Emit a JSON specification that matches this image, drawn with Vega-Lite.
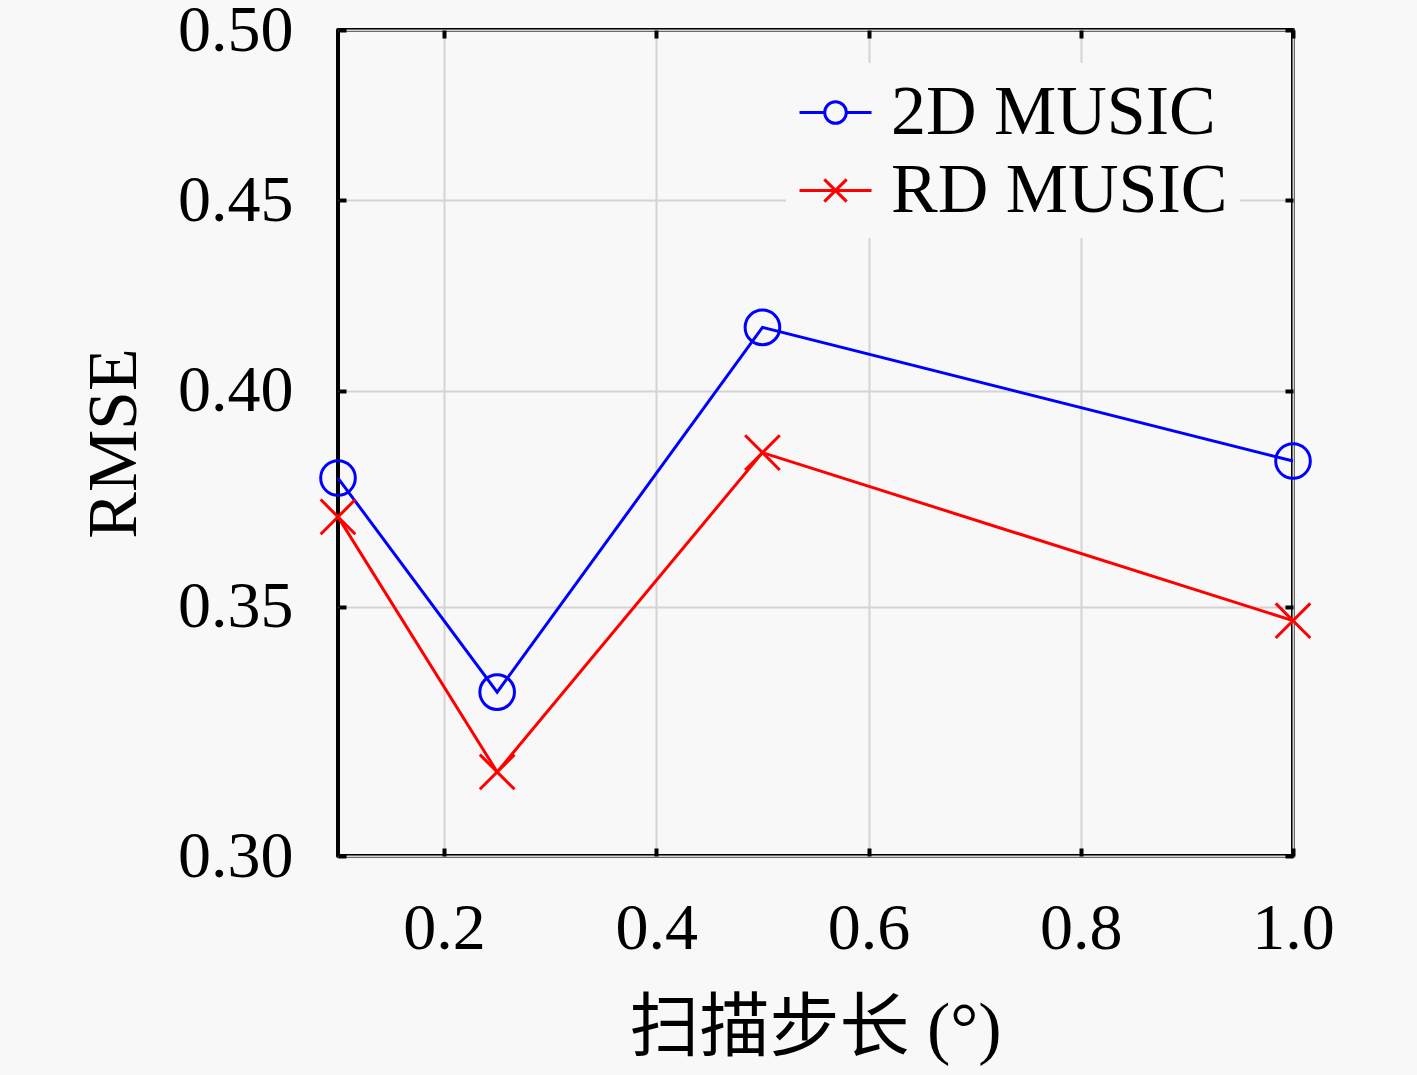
{
  "$schema": "https://vega.github.io/schema/vega-lite/v6.json",
  "description": "RMSE vs scan step for 2D MUSIC and RD MUSIC",
  "width": 955,
  "height": 826,
  "autosize": "none",
  "padding": {"left": 338, "top": 30, "right": 124, "bottom": 219},
  "background": "#f8f8f8",
  "config": {
    "view": {"stroke": "black", "strokeWidth": 4, "strokeJoin": "round"},
    "font": "Liberation Serif",
    "axis": {
      "domain": false,
      "gridColor": "#d3d3d3",
      "gridWidth": 2,
      "tickColor": "black",
      "tickWidth": 4,
      "tickSize": -8,
      "labelColor": "black",
      "titleColor": "black",
      "labelFont": "Liberation Serif",
      "titleFont": "Liberation Serif, Noto Sans CJK SC",
      "labelFontSize": 66,
      "titleFontSize": 70,
      "titleFontWeight": "normal"
    }
  },
  "data": {
    "values": [
      {"step": 0.1, "rmse": 0.379, "method": "2D MUSIC"},
      {"step": 0.25, "rmse": 0.332, "method": "2D MUSIC"},
      {"step": 0.5, "rmse": 0.416, "method": "2D MUSIC"},
      {"step": 1.0, "rmse": 0.383, "method": "2D MUSIC"},
      {"step": 0.1, "rmse": 0.370, "method": "RD MUSIC"},
      {"step": 0.25, "rmse": 0.316, "method": "RD MUSIC"},
      {"step": 0.5, "rmse": 0.385, "method": "RD MUSIC"},
      {"step": 1.0, "rmse": 0.347, "method": "RD MUSIC"}
    ]
  },
  "layer": [
    {
      "mark": {"type": "line", "strokeWidth": 3, "clip": false},
      "encoding": {
        "x": {
          "field": "step",
          "type": "quantitative",
          "scale": {"domain": [0.1, 1.0], "nice": false, "zero": false},
          "axis": {
            "orient": "bottom",
            "title": "扫描步长 (°)",
            "values": [0.2, 0.4, 0.6, 0.8, 1.0],
            "format": ".1f",
            "grid": true,
            "labelBaseline": "alphabetic",
            "labelPadding": 100,
            "labelFlush": false,
            "titleX": 477,
            "titleY": 194,
            "titleAlign": "center",
            "titleBaseline": "alphabetic"
          }
        },
        "y": {
          "field": "rmse",
          "type": "quantitative",
          "scale": {"type": "log", "domain": [0.3, 0.5], "nice": false, "zero": false},
          "axis": {
            "orient": "left",
            "title": "RMSE",
            "values": [0.3, 0.35, 0.4, 0.45, 0.5],
            "format": ".2f",
            "grid": true,
            "labelPadding": 53,
            "labelFlush": false,
            "titleX": -203,
            "titleY": 413,
            "titleAlign": "center",
            "titleBaseline": "alphabetic"
          }
        },
        "color": {
          "field": "method",
          "type": "nominal",
          "scale": {"domain": ["2D MUSIC", "RD MUSIC"], "range": ["#0000ff", "#ff0000"]},
          "legend": {
            "title": null,
            "orient": "none",
            "legendX": 448,
            "legendY": 33,
            "padding": 12,
            "fillColor": "#f8f8f8",
            "strokeColor": null,
            "symbolSize": 5184,
            "symbolStrokeWidth": 3,
            "symbolFillColor": "transparent",
            "labelFont": "Liberation Serif",
            "labelFontSize": 70,
            "labelColor": "black",
            "labelOffset": 18,
            "labelLimit": 600,
            "rowPadding": 5,
            "encode": {
              "symbols": {
                "update": {
                  "shape": {"signal": "datum.value === '2D MUSIC' ? 'M-1,0H-0.3M0.3,0H1M-0.3,0A0.3,0.3,0,1,1,0.3,0A0.3,0.3,0,1,1,-0.3,0' : 'M-1,0H1M-0.31,-0.31L0.31,0.31M-0.31,0.31L0.31,-0.31'"},
                  "fill": {"value": "transparent"},
                  "strokeWidth": {"value": 3}
                }
              }
            }
          }
        }
      }
    },
    {
      "transform": [{"filter": "datum.method === '2D MUSIC'"}],
      "mark": {"type": "point", "shape": "circle", "filled": false, "size": 1200, "strokeWidth": 3, "opacity": 1, "clip": false},
      "encoding": {
        "x": {
          "field": "step",
          "type": "quantitative",
          "axis": {"orient": "top", "title": null, "labels": false, "grid": false, "values": [0.2, 0.4, 0.6, 0.8, 1.0]}
        },
        "y": {
          "field": "rmse",
          "type": "quantitative",
          "axis": {"orient": "right", "title": null, "labels": false, "grid": false, "values": [0.3, 0.35, 0.4, 0.45, 0.5]}
        },
        "color": {"field": "method", "type": "nominal", "legend": null}
      }
    },
    {
      "transform": [{"filter": "datum.method === 'RD MUSIC'"}],
      "mark": {"type": "point", "shape": "M-1,-1L1,1M-1,1L1,-1", "filled": false, "size": 1200, "strokeWidth": 3, "opacity": 1, "clip": false},
      "encoding": {
        "x": {"field": "step", "type": "quantitative", "axis": null},
        "y": {"field": "rmse", "type": "quantitative", "axis": null},
        "color": {"field": "method", "type": "nominal", "legend": null}
      }
    }
  ]
}
